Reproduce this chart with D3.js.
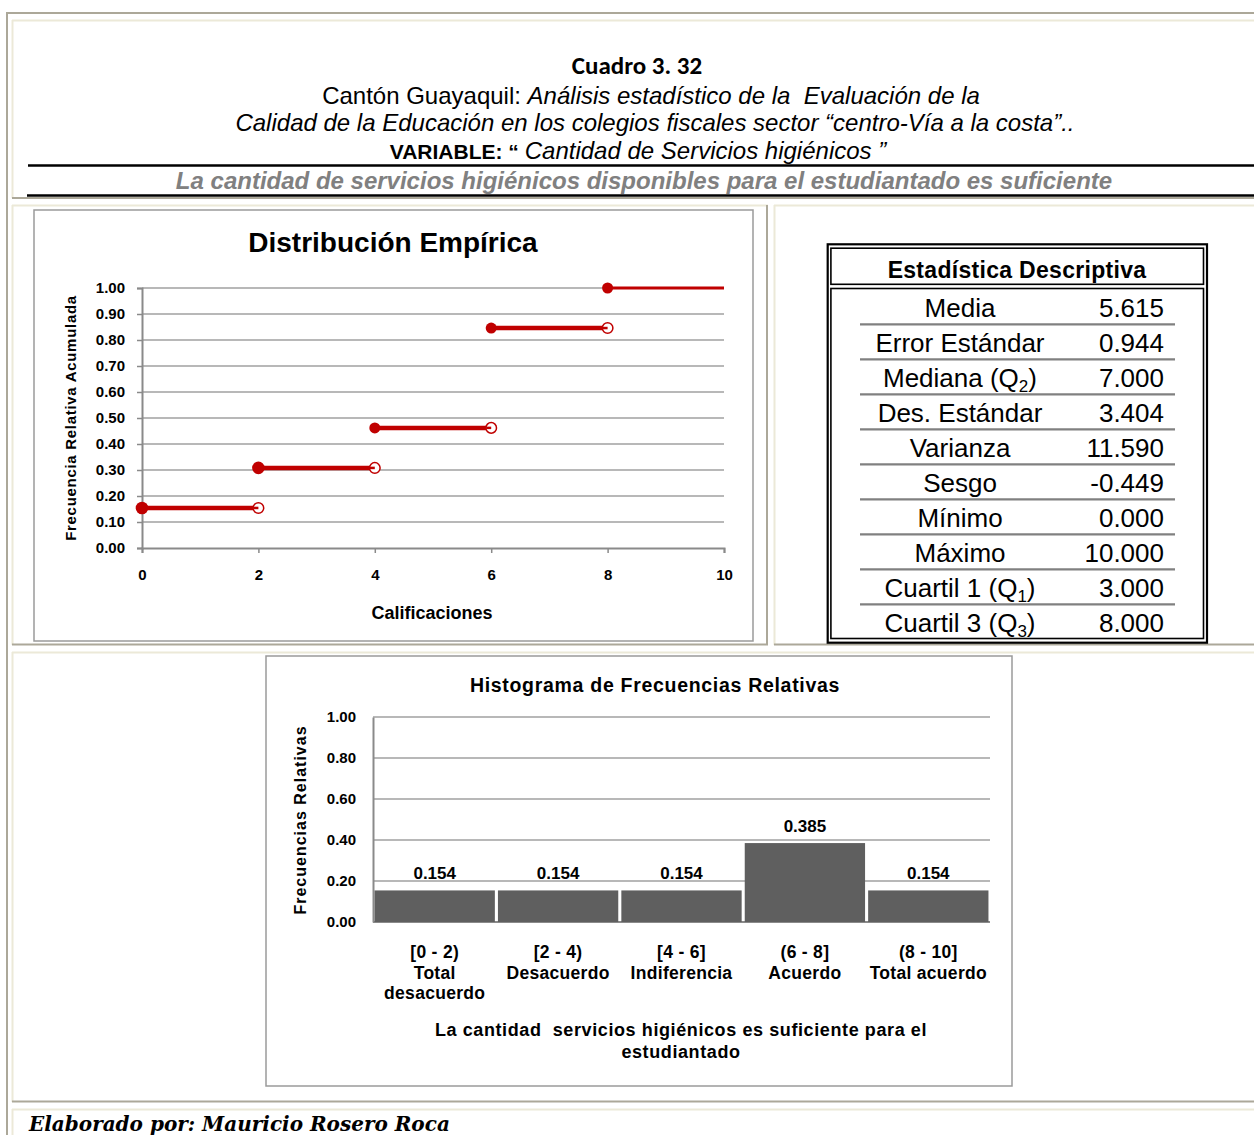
<!DOCTYPE html>
<html><head><meta charset="utf-8">
<script src="https://d3js.org/d3.v7.min.js"></script>
<style>body{margin:0;background:#fff}svg{display:block}text{font-family:"Liberation Sans",Arial,sans-serif;white-space:pre}</style>
</head><body>
<script>
// ---------- DATA ----------
const empiricalEdges = [0, 2, 4, 6, 8, 10];
const empiricalCum = [0.154, 0.308, 0.462, 0.846, 1.000];
const empiricalYTicks = [0,0.1,0.2,0.3,0.4,0.5,0.6,0.7,0.8,0.9,1.0];
const empiricalXTicks = [0,2,4,6,8,10];

const histCategories = ["[0 - 2)", "[2 - 4)", "[4 - 6]", "(6 - 8]", "(8 - 10]"];
const histNames = [["Total","desacuerdo"],["Desacuerdo"],["Indiferencia"],["Acuerdo"],["Total acuerdo"]];
const histValues = [0.154, 0.154, 0.154, 0.385, 0.154];
const histYTicks = [0, 0.2, 0.4, 0.6, 0.8, 1.0];

const statLabels = ["Media","Error Estándar","Mediana (Q_2)","Des. Estándar","Varianza","Sesgo","Mínimo","Máximo","Cuartil 1 (Q_1)","Cuartil 3 (Q_3)"];
const statValues = ["5.615","0.944","7.000","3.404","11.590","-0.449","0.000","10.000","3.000","8.000"];

// ---------- SVG ----------
const W = 1254, H = 1135;
const svg = d3.select("body").append("svg").attr("width", W).attr("height", H);
const GRAY = "#aca899", BEIGE = "#ece9d8";
function ln(x1,y1,x2,y2,c,w){svg.append("line").attr("x1",x1).attr("y1",y1).attr("x2",x2).attr("y2",y2).attr("stroke",c).attr("stroke-width",w);}

// frame (Word table look)
ln(6,13,W,13,GRAY,2); ln(7,12,7,H,GRAY,2);
ln(12,20.5,W,20.5,BEIGE,2); ln(12.5,20,12.5,198,BEIGE,2); ln(12,198,W,198,GRAY,2);
ln(12,205.5,768,205.5,BEIGE,2); ln(12.5,205,12.5,645,BEIGE,2); ln(767,205,767,645,GRAY,2); ln(12,644.5,768,644.5,GRAY,2);
ln(774,205.5,W,205.5,BEIGE,2); ln(774.5,205,774.5,645,BEIGE,2); ln(774,644.5,W,644.5,GRAY,2);
ln(12,652.5,W,652.5,BEIGE,2); ln(12.5,652,12.5,1102,BEIGE,2); ln(12,1101.5,W,1101.5,GRAY,2);
ln(12,1109.5,W,1109.5,BEIGE,2); ln(12.5,1109,12.5,H,BEIGE,2);

// ---------- HEADER ----------
svg.append("text").attr("x",637).attr("y",74).attr("text-anchor","middle")
  .style("font-family","Carlito, Lato, sans-serif").style("font-weight","bold").style("font-size","25px").text("Cuadro 3. 32");
let t = svg.append("text").attr("x",651).attr("y",104).attr("text-anchor","middle").style("font-size","24px");
t.append("tspan").text("Cantón Guayaquil: ");
t.append("tspan").style("font-style","italic").text("Análisis estadístico de la  Evaluación de la");
svg.append("text").attr("x",655).attr("y",131).attr("text-anchor","middle").style("font-size","24px").style("font-style","italic")
  .text("Calidad de la Educación en los colegios fiscales sector “centro-Vía a la costa”..");
t = svg.append("text").attr("x",638).attr("y",159).attr("text-anchor","middle").style("font-size","24px");
t.append("tspan").style("font-weight","bold").style("font-size","21px").text("VARIABLE: “ ");
t.append("tspan").style("font-style","italic").text("Cantidad de Servicios higiénicos ”");
ln(28,165.5,W,165.5,"#000",2.5);
svg.append("text").attr("x",644).attr("y",189).attr("text-anchor","middle").style("font-size","24px")
  .style("font-weight","bold").style("font-style","italic").attr("fill","#808080")
  .text("La cantidad de servicios higiénicos disponibles para el estudiantado es suficiente");
ln(27,195.5,W,195.5,"#000",2.5);

// ---------- EMPIRICAL CHART ----------
svg.append("rect").attr("x",34).attr("y",210).attr("width",719).attr("height",431).attr("fill","#fff").attr("stroke","#9a9a9a").attr("stroke-width",1.5);
svg.append("text").attr("x",393).attr("y",252).attr("text-anchor","middle").style("font-weight","bold").style("font-size","28px").text("Distribución Empírica");
const ex = d3.scaleLinear().domain([0,10]).range([142,724]);
const ey = d3.scaleLinear().domain([0,1]).range([548,288]);
const eg = svg.append("g");
eg.selectAll(".grid").data(empiricalYTicks.slice(1)).join("line")
  .attr("x1",ex(0)).attr("x2",ex(10)).attr("y1",d=>ey(d)).attr("y2",d=>ey(d)).attr("stroke","#a0a0a0").attr("stroke-width",1.5);
const eyAxis = eg.append("g").attr("transform",`translate(${ex(0)},0)`)
  .call(d3.axisLeft(ey).tickValues(empiricalYTicks).tickFormat(d3.format(".2f")).tickSize(5).tickPadding(12));
const exAxis = eg.append("g").attr("transform",`translate(0,${ey(0)})`)
  .call(d3.axisBottom(ex).tickValues(empiricalXTicks).tickFormat(d3.format("d")).tickSize(5).tickPadding(16));
[eyAxis, exAxis].forEach(a=>{
  a.select(".domain").attr("stroke","#8a8a8a").attr("stroke-width",2);
  a.selectAll(".tick line").attr("stroke","#8a8a8a").attr("stroke-width",1.5);
  a.selectAll("text").style("font-family","Liberation Sans, Arial, sans-serif").style("font-weight","bold").style("font-size","15px").attr("fill","#000");
});
svg.append("text").attr("transform","translate(76,418) rotate(-90)").attr("text-anchor","middle")
  .style("font-weight","bold").style("font-size","15px").style("letter-spacing","0.7px").text("Frecuencia Relativa Acumulada");
svg.append("text").attr("x",432).attr("y",619).attr("text-anchor","middle").style("font-weight","bold").style("font-size","18px").text("Calificaciones");
const RED = "#c00000";
const steps = empiricalCum.map((v,i)=>({x0:empiricalEdges[i], x1:empiricalEdges[i+1], y:v, last:i===empiricalCum.length-1}));
eg.selectAll(".seg").data(steps).join("line")
  .attr("x1",d=>ex(d.x0)).attr("x2",d=>ex(d.x1)).attr("y1",d=>ey(d.y)).attr("y2",d=>ey(d.y))
  .attr("stroke",RED).attr("stroke-width",d=>d.last?3:4.5);
eg.selectAll(".open").data(steps.filter(d=>!d.last)).join("circle")
  .attr("cx",d=>ex(d.x1)).attr("cy",d=>ey(d.y)).attr("r",5.3).attr("fill","#fff").attr("stroke",RED).attr("stroke-width",1.5);
eg.selectAll(".opendot").data(steps.filter(d=>!d.last)).join("line")
  .attr("x1",d=>ex(d.x1)-5).attr("x2",d=>ex(d.x1)).attr("y1",d=>ey(d.y)).attr("y2",d=>ey(d.y))
  .attr("stroke",RED).attr("stroke-width",2.5);
eg.selectAll(".closed").data(steps).join("circle")
  .attr("cx",d=>ex(d.x0)).attr("cy",d=>ey(d.y)).attr("r",d=>d.x0<4?6.3:5.5).attr("fill",RED);

// ---------- STATS TABLE ----------
const st = svg.append("g");
st.append("rect").attr("x",827.7).attr("y",244.3).attr("width",379.3).attr("height",398.4).attr("fill","none").attr("stroke","#000").attr("stroke-width",2.2);
st.append("rect").attr("x",830.9).attr("y",248.2).attr("width",372.6).attr("height",36.1).attr("fill","none").attr("stroke","#000").attr("stroke-width",1.6);
st.append("rect").attr("x",830.9).attr("y",288.5).attr("width",372.6).attr("height",350).attr("fill","none").attr("stroke","#000").attr("stroke-width",1.6);
st.append("text").attr("x",1017).attr("y",278).attr("text-anchor","middle").style("font-weight","bold").style("font-size","23px").style("letter-spacing","0.3px").text("Estadística Descriptiva");
const rowY = d3.scaleLinear().domain([0,1]).range([317.3,352.3]);
statLabels.forEach((lab,i)=>{
  const y = rowY(i);
  const tx = st.append("text").attr("x",960).attr("y",y).attr("text-anchor","middle").style("font-size","26px");
  const parts = lab.split("_");
  if(parts.length===1){ tx.text(lab); }
  else {
    tx.append("tspan").text(parts[0]);
    tx.append("tspan").attr("dy",5).style("font-size","17px").text(parts[1].charAt(0));
    tx.append("tspan").attr("dy",-5).text(parts[1].slice(1));
  }
  st.append("text").attr("x",1164).attr("y",y).attr("text-anchor","end").style("font-size","26px").text(statValues[i]);
  if(i<statLabels.length-1) st.append("line").attr("x1",860).attr("x2",1175).attr("y1",y+7).attr("y2",y+7).attr("stroke","#808080").attr("stroke-width",2.2);
});

// ---------- HISTOGRAM ----------
svg.append("rect").attr("x",266).attr("y",656).attr("width",746).attr("height",430).attr("fill","#fff").attr("stroke","#9a9a9a").attr("stroke-width",1.5);
svg.append("text").attr("x",655).attr("y",692).attr("text-anchor","middle").style("font-weight","bold").style("font-size","19.5px").style("letter-spacing","0.7px").text("Histograma de Frecuencias Relativas");
const hx = d3.scaleBand().domain(histCategories).range([373,990]).paddingInner(0.025).paddingOuter(0.0125);
const hy = d3.scaleLinear().domain([0,1]).range([922,717]);
const hg = svg.append("g");
hg.selectAll(".grid").data(histYTicks.slice(1)).join("line")
  .attr("x1",373).attr("x2",990).attr("y1",d=>hy(d)).attr("y2",d=>hy(d)).attr("stroke","#a0a0a0").attr("stroke-width",1.5);
const hyAxis = hg.append("g").attr("transform","translate(373,0)")
  .call(d3.axisLeft(hy).tickValues(histYTicks).tickFormat(d3.format(".2f")).tickSize(0).tickPadding(17));
hyAxis.select(".domain").attr("stroke","#8a8a8a").attr("stroke-width",2);
hyAxis.selectAll("text").style("font-family","Liberation Sans, Arial, sans-serif").style("font-weight","bold").style("font-size","15px").attr("fill","#000");
hg.append("line").attr("x1",373).attr("x2",990).attr("y1",hy(0)).attr("y2",hy(0)).attr("stroke","#8a8a8a").attr("stroke-width",2);
hg.selectAll(".bar").data(histValues).join("rect")
  .attr("x",(d,i)=>hx(histCategories[i])).attr("width",hx.bandwidth())
  .attr("y",d=>hy(d)).attr("height",d=>hy(0)-hy(d)).attr("fill","#5f5f5f");
hg.selectAll(".val").data(histValues).join("text")
  .attr("x",(d,i)=>hx(histCategories[i])+hx.bandwidth()/2).attr("y",d=>hy(d)-11)
  .attr("text-anchor","middle").style("font-weight","bold").style("font-size","17px").text(d=>d3.format(".3f")(d));
histCategories.forEach((c,i)=>{
  const cx = hx(c)+hx.bandwidth()/2;
  const lines = [c].concat(histNames[i]);
  lines.forEach((s,j)=>{
    hg.append("text").attr("x",cx).attr("y",958+j*20.5).attr("text-anchor","middle").style("font-weight","bold").style("font-size","17.5px").style("letter-spacing","0.3px").text(s);
  });
});
svg.append("text").attr("transform","translate(306,820) rotate(-90)").attr("text-anchor","middle")
  .style("font-weight","bold").style("font-size","16px").style("letter-spacing","1px").text("Frecuencias Relativas");
svg.append("text").attr("x",681).attr("y",1036).attr("text-anchor","middle").style("font-weight","bold").style("font-size","18px").style("letter-spacing","0.6px").text("La cantidad  servicios higiénicos es suficiente para el");
svg.append("text").attr("x",681).attr("y",1058).attr("text-anchor","middle").style("font-weight","bold").style("font-size","18px").style("letter-spacing","0.6px").text("estudiantado");

// ---------- FOOTER ----------
svg.append("text").attr("x",29).attr("y",1131).style("font-family","'DejaVu Serif', 'Liberation Serif', serif")
  .style("font-weight","bold").style("font-style","italic").style("font-size","20px").text("Elaborado por: Mauricio Rosero Roca");
</script>
</body></html>
